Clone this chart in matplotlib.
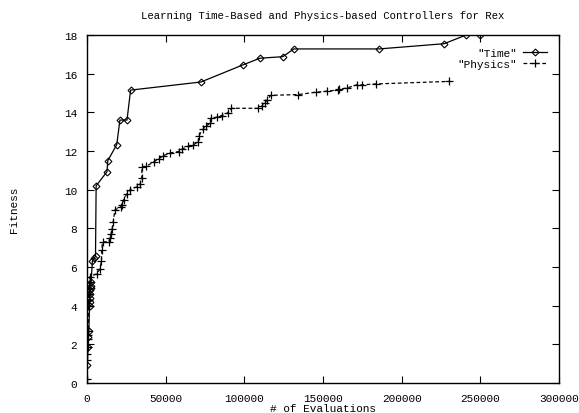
import matplotlib
matplotlib.use("Agg")
import matplotlib.pyplot as plt

time_x = [300, 600, 1000, 1300, 1700, 1800, 2000, 2100, 2200, 2400, 2500, 2700,
          3500, 4500, 5500, 5900, 12800, 13300, 19000, 21000, 25500, 27800,
          72500, 99000, 110000, 124500, 131500, 185500, 227000, 241000, 250000]
time_y = [0.95, 1.85, 2.4, 2.7, 4.0, 4.2, 4.4, 4.6, 4.8, 4.9, 5.0, 5.2,
          6.3, 6.45, 6.55, 10.2, 10.93, 11.5, 12.33, 13.6, 13.6, 15.15,
          15.57, 16.45, 16.8, 16.88, 17.28, 17.28, 17.55, 18.0, 18.0]

phys_x = [0, 300, 400, 500, 700, 800, 900, 1100, 1200, 1300, 1500, 1700, 1900,
          6400, 8300, 9300, 9400, 10000, 14000, 14600, 15300, 16000, 16800, 17800,
          21400, 22500, 23400, 25400, 27500, 31800, 33900, 34900, 35000, 37500,
          42400, 45600, 48700, 52700, 58300, 60400, 64500, 67600, 70700, 71200,
          73900, 75400, 78200, 78800, 82400, 85600, 89400, 91900, 108900, 111000,
          113100, 114600, 116800, 134300, 145300, 152300, 159700, 160200, 165400,
          171400, 174600, 183700, 230100]
phys_y = [0.2, 1.2, 1.5, 1.86, 2.3, 2.5, 2.7, 4.0, 4.3, 4.6, 4.9, 5.2, 5.5,
          5.65, 5.9, 6.3, 6.88, 7.3, 7.3, 7.5, 7.7, 7.95, 8.35, 8.95,
          9.1, 9.2, 9.47, 9.78, 10.0, 10.15, 10.3, 10.6, 11.17, 11.2,
          11.43, 11.6, 11.76, 11.9, 11.97, 12.1, 12.25, 12.33, 12.45, 12.8,
          13.14, 13.28, 13.43, 13.69, 13.75, 13.83, 13.97, 14.21, 14.21, 14.31,
          14.49, 14.64, 14.88, 14.92, 15.04, 15.09, 15.16, 15.2, 15.26,
          15.42, 15.42, 15.47, 15.6]

x_ticks = [0, 50000, 100000, 150000, 200000, 250000, 300000]
y_ticks = [0, 2, 4, 6, 8, 10, 12, 14, 16, 18]

title = "Learning Time-Based and Physics-based Controllers for Rex"
xlabel = "# of Evaluations"
ylabel = "Fitness"

plt.rcParams['font.family'] = ['Liberation Mono', 'DejaVu Sans Mono']
plt.rcParams['font.size'] = 8

fig = plt.figure(figsize=(5.79, 4.14), dpi=100)
ax = fig.add_axes([0.150, 0.0725, 0.8155, 0.8405])

ax.plot(time_x, time_y, color='black', lw=0.9, marker='D', markersize=3.5,
        fillstyle='none', markeredgewidth=0.8, label='"Time"')
ax.plot(phys_x, phys_y, color='black', lw=0.9, ls=(0, (3, 2)), marker='+',
        markersize=6, markeredgewidth=0.9, label='"Physics"')

ax.set_xlim(0, 300000)
ax.set_ylim(0, 18)
ax.set_xticks(x_ticks)
ax.set_xticklabels([str(v) for v in x_ticks])
ax.set_yticks(y_ticks)
ax.set_yticklabels([str(v) for v in y_ticks])
ax.tick_params(direction='in', length=5, width=0.8, top=True, right=True,
               labelsize=8, pad=7)
for s in ax.spines.values():
    s.set_linewidth(1.0)

ax.set_title(title, fontsize=7.7, pad=12)
ax.set_xlabel(xlabel, fontsize=8, labelpad=0)
ax.set_ylabel(ylabel, fontsize=8, va='center')
ax.yaxis.set_label_coords(-0.155, 0.50)

leg = ax.legend(loc='upper right', bbox_to_anchor=(0.985, 0.975), frameon=False,
                markerfirst=False, handlelength=2.2, handletextpad=0.5,
                labelspacing=0.1, fontsize=8, borderaxespad=0)
for t in leg.get_texts():
    t.set_ha('right')

fig.savefig('out.png', dpi=100)
